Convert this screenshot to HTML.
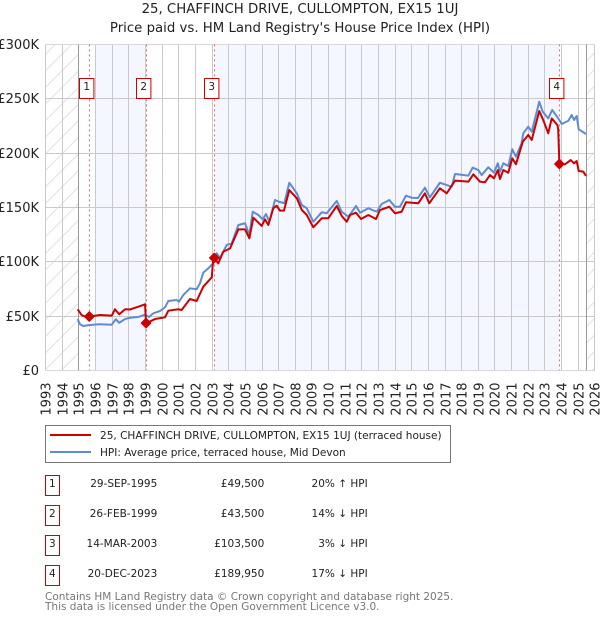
<!DOCTYPE html>
<html>
<head>
<meta charset="utf-8">
<title>25, Chaffinch Drive price chart</title>
<style>
html,body{margin:0;padding:0;background:#fff;}
svg{display:block;font-family:"DejaVu Sans","Liberation Sans",sans-serif;}
</style>
</head>
<body>
<svg id="chart" xmlns="http://www.w3.org/2000/svg" width="600" height="620" viewBox="0 0 600 620">
  <defs>
    <pattern id="hatch" patternUnits="userSpaceOnUse" width="16.6" height="16.6">
      <path d="M-1 1 L1 -1 M0 16.6 L16.6 0 M15.6 17.6 L17.6 15.6" stroke="#dcdcdc" stroke-width="0.9" fill="none"/>
    </pattern>
  </defs>
  <text x="300" y="13" font-size="13.3" text-anchor="middle" fill="#222">25, CHAFFINCH DRIVE, CULLOMPTON, EX15 1UJ</text>
  <text x="300" y="32" font-size="13.3" text-anchor="middle" fill="#222">Price paid vs. HM Land Registry's House Price Index (HPI)</text>
  <g id="plot"></g>
  <g>
    <rect x="45.5" y="425.5" width="405" height="37" fill="#fff" stroke="#777" stroke-width="1"/>
    <line x1="50" x2="91" y1="435" y2="435" stroke="#cc0000" stroke-width="2"/>
    <text x="100" y="439" font-size="10.52" fill="#222">25, CHAFFINCH DRIVE, CULLOMPTON, EX15 1UJ (terraced house)</text>
    <line x1="50" x2="91" y1="452" y2="452" stroke="#5f8bd0" stroke-width="2"/>
    <text x="100" y="456" font-size="10.52" fill="#222">HPI: Average price, terraced house, Mid Devon</text>
  </g>
  <g id="sales-table" font-size="10.5" fill="#222"></g>
  <text x="45" y="600" font-size="10.5" fill="#777">Contains HM Land Registry data © Crown copyright and database right 2025.</text>
  <text x="45" y="610" font-size="10.5" fill="#777">This data is licensed under the Open Government Licence v3.0.</text>
</svg>
<script>
const yearTicks = [1993,1994,1995,1996,1997,1998,1999,2000,2001,2002,2003,2004,2005,2006,2007,2008,2009,2010,2011,2012,2013,2014,2015,2016,2017,2018,2019,2020,2021,2022,2023,2024,2025,2026];
const valueTicks = [0,50,100,150,200,250,300];
const valueTickLabels = ['£0','£50K','£100K','£150K','£200K','£250K','£300K'];

const hpiDates = [1994.92,1995.06,1995.26,1995.62,1996.26,1996.97,1997.21,1997.42,1997.77,1998.07,1998.57,1998.97,1999.21,1999.47,1999.87,2000.17,2000.37,2000.87,2001.01,2001.27,2001.67,2002.07,2002.27,2002.47,2002.77,2003.07,2003.28,2003.48,2003.88,2004.18,2004.58,2004.98,2005.24,2005.44,2005.78,2006.04,2006.24,2006.44,2006.78,2007.02,2007.34,2007.64,2008.09,2008.39,2008.69,2009.08,2009.59,2009.89,2010.49,2010.79,2011.19,2011.65,2011.89,2012.39,2012.89,2013.19,2013.65,2013.99,2014.29,2014.65,2014.99,2015.37,2015.79,2016.09,2016.69,2017.10,2017.40,2017.60,2018.10,2018.40,2018.66,2019.00,2019.20,2019.60,2019.94,2020.17,2020.30,2020.50,2020.80,2021.04,2021.26,2021.60,2021.70,2022.00,2022.21,2022.66,2022.87,2023.20,2023.44,2023.80,2024.01,2024.41,2024.61,2024.75,2024.91,2025.03,2025.47];
const hpiValues = [47.2,42.4,40.8,41.7,42.4,42.0,47.0,43.8,47.2,48.4,49.1,51.2,49.1,52.5,54.6,58.0,63.8,64.7,63.2,69.3,75.5,74.6,80.1,89.9,93.9,98.5,107.7,103.4,115.4,116.9,133.8,135.4,124.6,146.0,143.0,139.0,143.9,136.8,156.8,155.2,153.8,172.7,163.0,152.2,149.2,136.8,145.5,144.6,155.9,146.0,141.4,151.3,145.1,149.2,146.0,153.1,156.8,150.6,150.6,160.8,158.9,158.7,168.1,159.3,172.7,170.6,169.1,180.8,179.8,179.2,186.6,184.4,179.8,186.9,182.0,190.6,182.9,190.6,188.1,203.5,196.7,209.0,218.2,224.3,219.7,247.3,238.1,232.0,239.7,232.0,226.8,229.8,235.1,230.5,234.2,221.9,217.6];

const priceDates = [1994.92,1995.16,1995.36,1995.62,1996.26,1996.97,1997.16,1997.42,1997.77,1998.07,1998.57,1998.97,1999.03,1999.57,2000.17,2000.37,2000.97,2001.17,2001.67,2002.07,2002.47,2002.98,2003.07,2003.13,2003.37,2003.67,2004.08,2004.58,2004.98,2005.24,2005.48,2005.98,2006.18,2006.38,2006.68,2006.88,2007.08,2007.32,2007.64,2008.09,2008.39,2008.69,2009.08,2009.59,2009.98,2010.49,2010.79,2011.09,2011.29,2011.65,2011.95,2012.39,2012.85,2013.09,2013.65,2013.99,2014.39,2014.65,2015.39,2015.79,2016.05,2016.69,2017.10,2017.60,2018.40,2018.70,2019.10,2019.40,2019.70,2019.94,2020.17,2020.30,2020.50,2020.80,2021.04,2021.26,2021.67,2022.00,2022.21,2022.66,2022.90,2023.20,2023.41,2023.75,2023.80,2023.87,2024.21,2024.55,2024.75,2024.91,2025.03,2025.31,2025.47];
const priceValues = [56.2,50.9,49.5,49.4,50.9,50.3,56.2,51.6,56.2,56.0,58.6,60.8,43.3,47.2,48.8,54.9,56.2,55.5,65.7,63.8,77.0,85.6,103.1,103.5,98.5,109.2,112.3,129.8,129.8,121.5,140.5,132.9,139.0,133.8,149.2,151.6,147.0,147.0,166.0,158.4,147.6,143.0,131.7,140.0,140.0,151.3,142.1,136.8,143.0,145.1,139.3,143.0,139.3,147.6,150.6,144.6,146.0,154.7,153.8,163.0,153.8,167.6,163.0,174.6,173.7,180.5,173.7,173.1,179.8,176.8,184.4,176.1,184.4,181.9,195.2,189.7,210.5,216.7,212.1,238.8,230.5,218.2,232.0,225.9,222.0,189.95,189.7,193.6,190.6,192.7,183.5,182.9,178.9];

const saleLabels = ['1','2','3','4'];
const saleDates = [1995.62,1999.03,2003.13,2023.87];
const saleValues = [49.5,43.5,103.5,189.95];
const saleDateLabels = ['29-SEP-1995','26-FEB-1999','14-MAR-2003','20-DEC-2023'];
const salePriceLabels = ['£49,500','£43,500','£103,500','£189,950'];
const saleHpiLabels = ['20% ↑ HPI','14% ↓ HPI','3% ↓ HPI','17% ↓ HPI'];

const dataStart = 1995;
const dataEnd = 2025.5;
const shadeStarts = [1996, 2003.13];
const shadeEnds = [1999.03, 2023.87];

const NS = 'http://www.w3.org/2000/svg';
const plotLeft = 45.7, yearWidth = 16.64, plotBottom = 370.3, kHeight = 1.086;
const plotRight = 594.8, plotTop = 44.4;
function xAxis(year) { return plotLeft + (year - 1993) * yearWidth; }
function yAxis(value) { return plotBottom - value * kHeight; }
function crisp(v) { return Math.floor(v) + 0.5; }
function make(tag, parent, props, text) {
  const el = document.createElementNS(NS, tag);
  for (const k in props) el.setAttribute(k, props[k]);
  if (text !== undefined) el.textContent = text;
  parent.appendChild(el);
  return el;
}
const plot = document.getElementById('plot');

// Shaded bands
shadeStarts.forEach((s, i) => {
  const el = make('rect', plot, {x: xAxis(s), y: plotTop, width: xAxis(shadeEnds[i]) - xAxis(s), height: plotBottom - plotTop, fill: '#f4f7ff'});
  
  
});

// Hatched regions outside the data range
const hatchLeft = make('rect', plot, {x: xAxis(1993), y: plotTop, width: xAxis(dataStart) - xAxis(1993), height: plotBottom - plotTop, fill: 'url(#hatch)'});


const hatchRight = make('rect', plot, {x: xAxis(dataEnd), y: plotTop, width: plotRight - xAxis(dataEnd), height: plotBottom - plotTop, fill: 'url(#hatch)'});



// Vertical grid and year labels
yearTicks.forEach((yr) => {
  const x = crisp(xAxis(yr));
  const g = make('line', plot, {x1: x, x2: x, y1: plotTop, y2: plotBottom, stroke: '#c9c9c9', 'stroke-width': 1});
  
  
  const t = make('text', plot, {x: 0, y: 0, 'font-size': 13, 'text-anchor': 'end', fill: '#222', transform: 'translate(' + (x + 5) + ',382.5) rotate(-90)'}, String(yr));
  
  
});

// Horizontal grid and value labels
valueTicks.forEach((v, i) => {
  const y = crisp(yAxis(v));
  const g = make('line', plot, {x1: plotLeft, x2: plotRight, y1: y, y2: y, stroke: i === 0 || i === valueTicks.length - 1 ? '#d8d8d8' : '#c9c9c9', 'stroke-width': 1});
  
  
  const t = make('text', plot, {x: 39, y: y + 4.5, 'font-size': 13, 'text-anchor': 'end', fill: '#222'}, valueTickLabels[i]);
  
  
});

// Data range boundaries
[dataStart, dataEnd].forEach((yr) => {
  const x = crisp(xAxis(yr));
  const b = make('line', plot, {x1: x, x2: x, y1: plotTop, y2: plotBottom, stroke: '#999', 'stroke-width': 1});
  
  
});

// Sale date lines
saleDates.forEach((d) => {
  const x = crisp(xAxis(d));
  const l = make('line', plot, {x1: x, x2: x, y1: plotTop, y2: plotBottom, stroke: '#f26a6a', 'stroke-width': 1, 'stroke-dasharray': '2 3'});
  
  
});

// Series
function linePoints(dates, values) {
  return dates.map((d, i) => xAxis(d).toFixed(2) + ',' + yAxis(values[i]).toFixed(2)).join(' ');
}
const hpiLine = make('polyline', plot, {points: linePoints(hpiDates, hpiValues), fill: 'none', stroke: '#5f8bd0', 'stroke-width': 2, 'stroke-linejoin': 'round'});


const priceLine = make('polyline', plot, {points: linePoints(priceDates, priceValues), fill: 'none', stroke: '#cc0000', 'stroke-width': 2, 'stroke-linejoin': 'round'});



// Sale markers and numbered flags
saleDates.forEach((d, i) => {
  const cx = xAxis(d), cy = yAxis(saleValues[i]), r = 4.5;
  const m = make('polygon', plot, {points: [cx, cy - r, cx + r, cy, cx, cy + r, cx - r, cy].join(' '), fill: '#cc0000', stroke: '#cc0000', 'stroke-width': 1.5, 'stroke-linejoin': 'round'});
  
  
  const bx = crisp(cx) - 10;
  const b = make('rect', plot, {x: bx, y: 78.5, width: 14.4, height: 20, fill: '#fff', stroke: '#cc0000', 'stroke-width': 1});
  
  
  const t = make('text', plot, {x: bx + 7.2, y: 90, 'font-size': 10.5, 'text-anchor': 'middle', fill: '#222'}, saleLabels[i]);
  
  
});

// Table rows
const table = document.getElementById('sales-table');
saleLabels.forEach((label, i) => {
  const top = 475.5 + i * 30;
  const box = make('rect', table, {x: 45.5, y: top, width: 14, height: 20, fill: '#fff', stroke: '#cc0000', 'stroke-width': 1});
  
  
  const n = make('text', table, {x: 52.3, y: top + 11.5, 'text-anchor': 'middle'}, label);
  
  
  const dt = make('text', table, {x: 157.3, y: top + 11.5, 'text-anchor': 'end'}, saleDateLabels[i]);
  
  
  const pr = make('text', table, {x: 264.3, y: top + 11.5, 'text-anchor': 'end'}, salePriceLabels[i]);
  
  
  const hp = make('text', table, {x: 367.7, y: top + 11.5, 'text-anchor': 'end'}, saleHpiLabels[i]);
  
  
});
</script>
</body>
</html>
